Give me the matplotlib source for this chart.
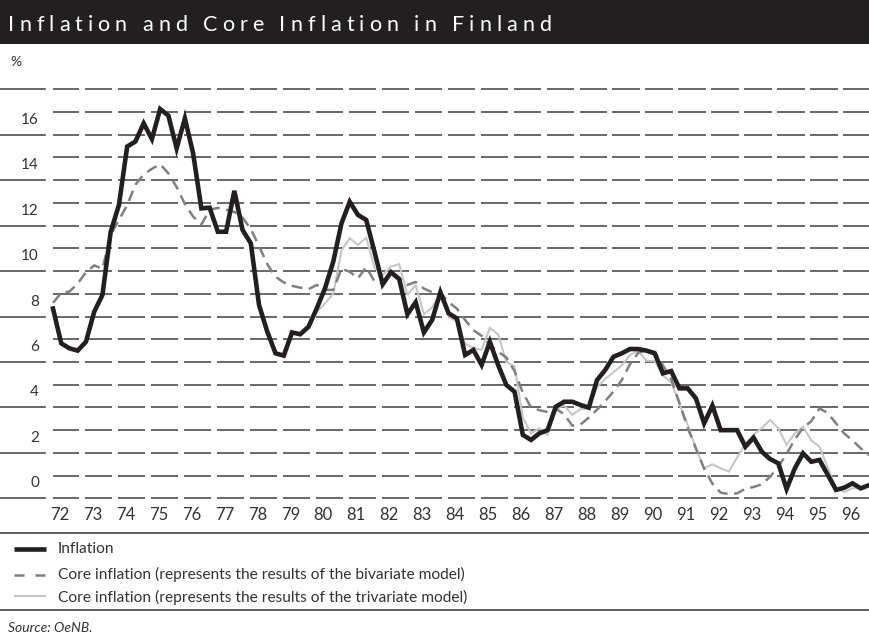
import numpy as np
import matplotlib
matplotlib.use("Agg")
import matplotlib.pyplot as plt
from matplotlib import transforms
from matplotlib.lines import Line2D
from matplotlib.patches import Rectangle
from matplotlib.font_manager import FontProperties, findfont
from matplotlib.ft2font import FT2Font

# ---------------- data (quarterly, 1972Q1 - 1996Q4) ----------------
start_year = 1972
year_labels = ["72", "73", "74", "75", "76", "77", "78", "79", "80", "81", "82", "83",
               "84", "85", "86", "87", "88", "89", "90", "91", "92", "93", "94", "95", "96"]
y_ticks = [0, 2, 4, 6, 8, 10, 12, 14, 16]

inflation = [8.35, 6.82, 6.6, 6.5, 6.89, 8.21, 8.95, 11.73, 12.91, 15.48,
             15.7, 16.5, 15.81, 17.13, 16.84, 15.4, 16.72, 15.18, 12.76, 12.79,
             11.73, 11.73, 13.53, 11.81, 11.22, 8.5, 7.33, 6.38, 6.28, 7.3,
             7.22, 7.55, 8.36, 9.24, 10.41, 12.1, 13.05, 12.47, 12.25, 10.85,
             9.42, 9.95, 9.65, 8.1, 8.63, 7.3, 7.85, 9.07, 8.14, 7.92,
             6.31, 6.53, 5.87, 6.89, 5.87, 4.99, 4.69, 2.79, 2.57, 2.86,
             3.0, 4.03, 4.25, 4.25, 4.11, 3.99, 5.2, 5.65, 6.23, 6.38,
             6.57, 6.57, 6.5, 6.38, 5.5, 5.6, 4.84, 4.84, 4.4, 3.3,
             4.08, 3.0, 3.0, 3.0, 2.27, 2.67, 2.05, 1.73, 1.54, 0.41,
             1.32, 1.98, 1.61, 1.69, 1.03, 0.37, 0.47, 0.66, 0.44, 0.58]

core_bivariate = [8.6, 9.05, 9.1, 9.45, 9.95, 10.25, 10.1, 11.6, 12.25, 12.9,
                  13.8, 14.25, 14.5, 14.7, 14.3, 13.7, 12.95, 12.4, 12.05, 12.7,
                  12.78, 12.7, 12.6, 12.35, 11.85, 11.1, 10.3, 9.75, 9.5, 9.35,
                  9.27, 9.2, 9.39, 9.17, 9.17, 10.1, 9.97, 9.68, 10.18, 9.55,
                  9.45, 9.88, 9.67, 9.39, 9.52, 9.23, 9.07, 9.05, 8.63, 8.35,
                  7.85, 7.4, 7.15, 6.75, 6.45, 6.2, 5.6, 4.65, 4.0, 3.88,
                  3.8, 3.95, 3.7, 3.2, 3.25, 3.55, 3.9, 4.28, 4.7, 5.2,
                  5.9, 6.4, 6.53, 6.45, 5.85, 5.25, 4.2, 3.1, 2.2, 1.3,
                  0.65, 0.25, 0.19, 0.22, 0.42, 0.5, 0.62, 0.95, 1.4, 1.95,
                  2.6, 3.1, 3.4, 3.96, 3.75, 3.3, 2.85, 2.55, 2.2, 1.9]

trivariate_start = 32   # first quarter with a value (1980Q1)
core_trivariate = [8.2, 8.58, 9.0, 10.9, 11.45, 11.15, 11.47, 10.15,
                   9.83, 10.2, 10.3, 8.95, 9.39, 8.1, 8.4, 9.02, 8.0, 7.77,
                   6.8, 6.62, 6.53, 7.5, 7.22, 6.0, 5.8, 3.55, 2.86, 3.08,
                   2.8, 3.9, 4.1, 3.67, 3.93, 3.96, 4.9, 5.25, 5.55, 5.85,
                   6.3, 6.5, 6.05, 6.05, 5.4, 5.1, 4.15, 3.25, 2.2, 1.32,
                   1.5, 1.32, 1.18, 1.8, 2.4, 2.8, 3.1, 3.45, 3.08, 2.35,
                   2.86, 3.15, 2.55, 2.27, 1.35, 0.45, 0.28, 0.45, 0.44, 0.58]

legend_labels = ["Inflation",
                 "Core inflation (represents the results of the bivariate model)",
                 "Core inflation (represents the results of the trivariate model)"]
title = "Inflation and Core Inflation in Finland"
source = "Source: OeNB."

# ---------------- figure ----------------
W, H = 869, 643
fig = plt.figure(figsize=(W / 100, H / 100), dpi=100)
fig.patch.set_facecolor("white")

def fx(px):
    return px / W

def fy(py):
    return 1 - py / H

FONT = "Lato"
DARK = "#231f20"

quarters = start_year + np.arange(len(inflation)) / 4.0
tri_x = quarters[trivariate_start:trivariate_start + len(core_trivariate)]
years = start_year + np.arange(len(year_labels))

ax = fig.add_axes([fx(53), fy(509.7), fx(816), 431.8 / H])
x_end = quarters[-1]
ax.set_xlim(start_year, x_end)
ax.set_ylim(-0.5, 18.5)
ax.axis("off")

# dashed grid: one dash per year on every unit line
grid_levels = np.arange(0, 19)
xs0, xs1, ys = [], [], []
for lv in grid_levels:
    for k, yr in enumerate(years):
        a = yr if k == 0 else yr - 0.03
        b = min(yr + 0.8, x_end)
        xs0.append(a); xs1.append(b); ys.append(lv)
ax.hlines(ys, xs0, xs1, colors="#4f4f4f", linewidth=1.2, zorder=1)

# solid left stubs at even levels
blend = transforms.blended_transform_factory(fig.transFigure, ax.transData)
for lv in range(0, 19, 2):
    ax.add_line(Line2D([0, fx(45)], [lv, lv], transform=blend, color="#4f4f4f",
                       linewidth=1.2, clip_on=False))

# y tick labels (sit just above their line)
for v in y_ticks:
    ax.text(fx(39), v + 0.66, str(v), transform=blend, ha="right", va="center",
            fontsize=11, family=FONT, color="#333333")

# x tick labels
blend_x = transforms.blended_transform_factory(ax.transData, fig.transFigure)
for yr, lab in zip(years, year_labels):
    ax.text(yr + 0.2, fy(515), lab, transform=blend_x, ha="center", va="center",
            fontsize=12, family=FONT, color="#333333")

# series
ax.plot(tri_x, core_trivariate, color="#c6c6c6", linewidth=1.5, zorder=3,
        clip_on=False, solid_joinstyle="miter")
ax.plot(quarters, core_bivariate, color="#808080", linewidth=1.8, zorder=4,
        dashes=(4.4, 2.6), clip_on=False)
ax.plot(quarters, inflation, color=DARK, linewidth=3.3, zorder=5, clip_on=False,
        solid_joinstyle="miter")

# "%" unit
fig.text(fx(10), fy(62), "%", fontsize=10, family=FONT, color="#333333",
         ha="left", va="center")

# title bar
fig.add_artist(Rectangle((0, fy(44)), 1, 44 / H, transform=fig.transFigure,
                         facecolor=DARK, edgecolor="none"))

def tracked_text(x_px, x_end_px, base_px, s, size, family, weight="normal", color="white"):
    fp = FontProperties(family=family, size=size, weight=weight)
    font = FT2Font(findfont(fp))
    font.set_size(size, 100)
    adv = []
    for ch in s:
        g = font.load_char(ord(ch))
        adv.append(g.linearHoriAdvance / 65536.0)
    natural = sum(adv[:-1]) + adv[-1] * 0.9
    tracking = (x_end_px - x_px - natural) / (len(s) - 1)
    x = x_px
    for ch, a in zip(s, adv):
        if ch != " ":
            fig.text(fx(x), fy(base_px), ch, fontproperties=fp, color=color,
                     ha="left", va="baseline")
        x += a + tracking

tracked_text(8, 550, 31, title, 15.5, FONT)

# separator lines
fig.add_artist(Line2D([0, 1], [fy(533), fy(533)], transform=fig.transFigure,
                      color="#333333", linewidth=1.1))
fig.add_artist(Line2D([0, 1], [fy(610), fy(610)], transform=fig.transFigure,
                      color="#333333", linewidth=1.1))

# legend
leg_y = [549, 574, 597]
fig.add_artist(Line2D([fx(14), fx(46)], [fy(leg_y[0])] * 2, transform=fig.transFigure,
                      color=DARK, linewidth=3.3, solid_capstyle="butt"))
for a, b in [(14, 24), (35, 45)]:
    fig.add_artist(Line2D([fx(a), fx(b)], [fy(leg_y[1] + 1)] * 2, transform=fig.transFigure,
                          color="#808080", linewidth=1.8, solid_capstyle="butt"))
fig.add_artist(Line2D([fx(14), fx(46)], [fy(leg_y[2] - 1)] * 2, transform=fig.transFigure,
                      color="#c6c6c6", linewidth=1.5, solid_capstyle="butt"))
for yy, lab in zip(leg_y, legend_labels):
    fig.text(fx(58), fy(yy), lab, fontsize=11.2, family=FONT, color="#333333",
             ha="left", va="center")

fig.text(fx(8), fy(628), source, fontsize=10, family=FONT, style="italic",
         color="#333333", ha="left", va="center")

fig.savefig("out.png", dpi=100, facecolor="white")
